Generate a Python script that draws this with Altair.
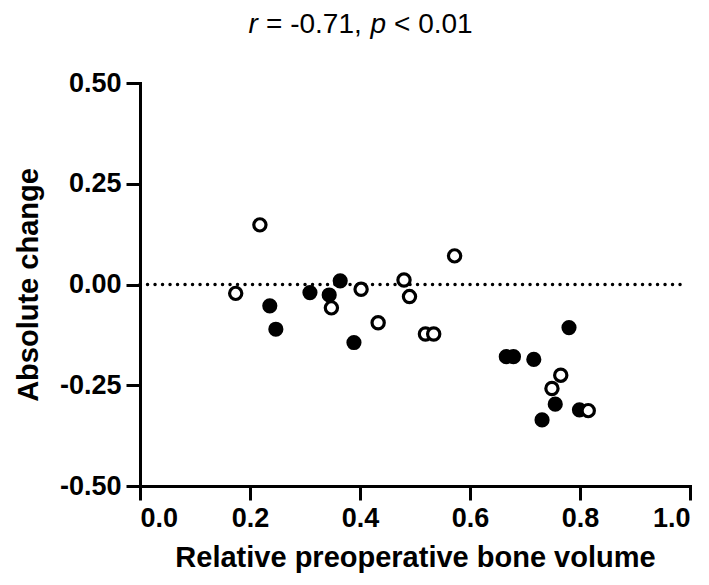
import altair as alt
import pandas as pd

# Filled-circle group
x_filled = [0.236, 0.247, 0.309, 0.344, 0.364, 0.389, 0.666, 0.679, 0.716, 0.731, 0.755, 0.780, 0.799]
y_filled = [-0.053, -0.111, -0.020, -0.026, 0.009, -0.144, -0.179, -0.179, -0.186, -0.336, -0.297, -0.107, -0.311]
# Open-circle group
x_open = [0.174, 0.218, 0.348, 0.402, 0.433, 0.480, 0.490, 0.519, 0.534, 0.572, 0.749, 0.765, 0.815]
y_open = [-0.022, 0.148, -0.058, -0.012, -0.095, 0.011, -0.030, -0.123, -0.123, 0.071, -0.258, -0.225, -0.313]

x_ticks = [0.0, 0.2, 0.4, 0.6, 0.8, 1.0]
y_ticks = [-0.5, -0.25, 0.0, 0.25, 0.5]
ref_x = [0.0, 0.995]
ref_y = [0.0, 0.0]

title_parts = ["r", "= -0.71,", "p", "< 0.01"]
title_italic = [True, False, True, False]

FONT = "Liberation Sans"

df_f = pd.DataFrame({"x": x_filled, "y": y_filled})
df_o = pd.DataFrame({"x": x_open, "y": y_open})
df_ref = pd.DataFrame({"x": ref_x, "y": ref_y})

xscale = alt.Scale(domain=[0, 1], nice=False, zero=False)
yscale = alt.Scale(domain=[-0.5, 0.5], nice=False, zero=False)

xaxis = alt.Axis(
    values=x_ticks, format=".1f", title="Relative preoperative bone volume",
    labelExpr="replace(format(datum.value, '.1f'), '\u2212', '-')",
)
yaxis = alt.Axis(
    values=y_ticks, format=".2f", title="Absolute change",
    labelExpr="replace(format(datum.value, '.2f'), '\u2212', '-')",
)

ref = alt.Chart(df_ref).mark_line(
    color="black", strokeWidth=3.4, strokeDash=[0.1, 7.4], strokeCap="round"
).encode(
    x=alt.X("x:Q", scale=xscale, axis=xaxis),
    y=alt.Y("y:Q", scale=yscale, axis=yaxis),
)

filled = alt.Chart(df_f).mark_point(
    filled=True, fill="black", stroke="black", strokeWidth=0, size=230, opacity=1, shape="circle"
).encode(
    x=alt.X("x:Q", scale=xscale),
    y=alt.Y("y:Q", scale=yscale),
)

opened = alt.Chart(df_o).mark_point(
    filled=True, fill="white", stroke="black", strokeWidth=3.2, size=150, opacity=1,
    fillOpacity=1, strokeOpacity=1, shape="circle"
).encode(
    x=alt.X("x:Q", scale=xscale),
    y=alt.Y("y:Q", scale=yscale),
)

# Title built from pieces so r and p can be italic
title_x = [108.5, 126.0, 230.5, 254.0]
title_layers = []
for txt, ital, tx in zip(title_parts, title_italic, title_x):
    t = alt.Chart(pd.DataFrame({"t": [txt]})).mark_text(
        align="left", baseline="alphabetic", font=FONT, fontSize=28,
        fontStyle="italic" if ital else "normal", color="black",
    ).encode(x=alt.value(tx), y=alt.value(-50), text="t:N")
    title_layers.append(t)

chart = alt.layer(ref, filled, opened, *title_layers).properties(
    width=550, height=403,
    autosize=alt.AutoSizeParams(type="none"),
    padding={"left": 132, "top": 75, "right": 10, "bottom": 95},
).configure_view(stroke=None).configure_axis(
    grid=False,
    domainColor="black", domainWidth=3, domainCap="square",
    tickColor="black", tickWidth=3, tickSize=14,
    labelFont=FONT, labelFontSize=27, labelFontWeight="bold", labelColor="black",
    labelPadding=5,
    titleFont=FONT, titleFontSize=29, titleFontWeight="bold", titleColor="black",
).configure_axisX(titlePadding=12).configure_axisY(titlePadding=16)

chart.save("out.html", embed_options={"renderer": "svg", "actions": False})
